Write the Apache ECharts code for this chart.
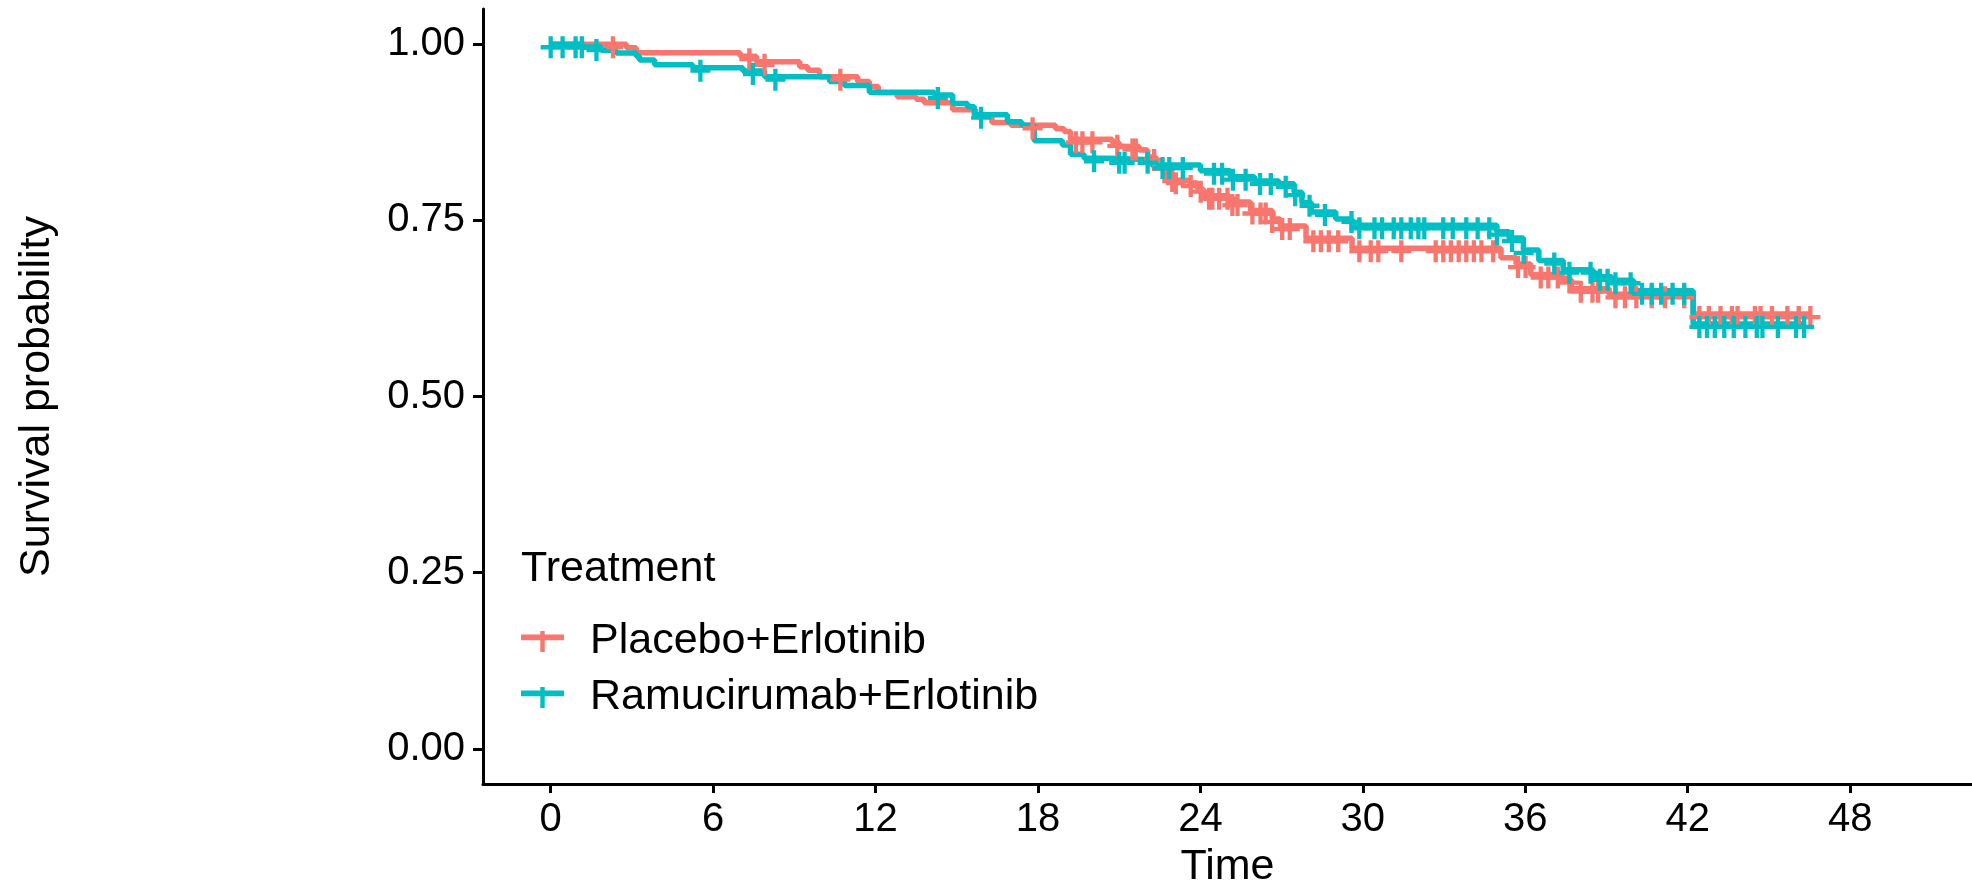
<!DOCTYPE html>
<html>
<head>
<meta charset="utf-8">
<script src="https://cdn.jsdelivr.net/npm/echarts@6/dist/echarts.min.js"></script>
<style>
  html, body { margin: 0; padding: 0; background: #fff; }
  #chart { width: 1972px; height: 894px; }
</style>
</head>
<body>
<div id="chart"></div>
<script>
// Kaplan-Meier steps: event times (months) and survival after each drop
const placeboTimes = [0, 2.8, 3.16, 7.0, 7.6, 9.2, 9.5, 9.93, 11.34, 11.77, 12.1, 12.8, 13.5, 13.8, 14.85, 15.7, 16.3, 17.0, 18.65, 18.97, 19.2, 20.75, 21.0, 21.74, 22.05, 22.35, 22.7, 23.0, 23.6, 23.9, 24.1, 25.05, 25.85, 26.65, 26.95, 27.9, 29.6, 35.1, 35.66, 36.2, 37.35, 37.7, 39.1, 42.2]
const placeboSurv = [1, 0.995, 0.988, 0.983, 0.975, 0.968, 0.963, 0.954, 0.947, 0.940, 0.931, 0.9255, 0.922, 0.917, 0.907, 0.900, 0.889, 0.885, 0.880, 0.876, 0.865, 0.860, 0.855, 0.850, 0.840, 0.824, 0.810, 0.807, 0.803, 0.795, 0.785, 0.776, 0.764, 0.752, 0.742, 0.7245, 0.7105, 0.697, 0.688, 0.673, 0.666, 0.653, 0.645, 0.617]
const placeboCensor = [2.3, 7.34, 7.9, 10.7, 17.8, 19.4, 19.64, 20.01, 20.93, 21.49, 21.61, 22.29, 22.96, 23.09, 23.64, 24.01, 24.32, 24.44, 24.69, 25.0, 25.18, 25.37, 25.92, 26.22, 26.41, 26.65, 27.02, 27.3, 28.17, 28.45, 28.74, 29.09, 29.87, 30.29, 30.57, 31.42, 32.69, 32.97, 33.25, 33.54, 33.82, 34.1, 34.38, 34.81, 35.73, 36.01, 36.57, 36.85, 37.2, 37.63, 38.05, 38.48, 38.69, 39.33, 39.68, 40.1, 40.67, 41.16, 41.87, 42.43, 42.78, 43.21, 43.63, 43.84, 44.48, 44.69, 45.11, 45.68, 46.1, 46.53]

const ramuTimes = [0, 1.19, 1.87, 2.42, 3.16, 3.28, 3.84, 5.25, 7.1, 7.9, 10.3, 10.85, 11.77, 14.17, 14.85, 15.4, 15.65, 16.87, 17.4, 17.86, 18.9, 19.2, 19.7, 20.6, 22.2, 24.0, 25.1, 26.0, 26.9, 27.46, 27.75, 28.1, 29.0, 29.6, 34.95, 35.4, 35.93, 36.5, 37.4, 38.5, 39.2, 40.0, 42.2]
const ramuSurv = [1, 0.996, 0.9916, 0.9874, 0.983, 0.9775, 0.971, 0.9667, 0.962, 0.954, 0.947, 0.9414, 0.932, 0.928, 0.9157, 0.9114, 0.900, 0.890, 0.885, 0.863, 0.857, 0.844, 0.838, 0.836, 0.8285, 0.8205, 0.812, 0.806, 0.802, 0.790, 0.775, 0.762, 0.752, 0.743, 0.734, 0.725, 0.708, 0.693, 0.680, 0.670, 0.665, 0.650, 0.603]
const ramuCensor = [0, 0.44, 0.92, 1.15, 1.69, 5.53, 7.47, 8.3, 14.3, 15.9, 20.07, 21.0, 21.2, 22.05, 22.6, 22.85, 23.35, 24.5, 24.8, 25.2, 25.67, 26.2, 26.6, 27.15, 27.5, 28.03, 28.6, 29.58, 29.87, 30.43, 30.71, 31.14, 31.42, 31.77, 32.05, 32.27, 32.97, 33.32, 33.82, 34.24, 34.67, 34.95, 35.51, 35.94, 37.07, 37.63, 38.41, 38.76, 39.04, 39.33, 39.89, 40.31, 40.67, 41.02, 41.44, 41.87, 42.43, 42.71, 43.0, 43.35, 43.7, 44.13, 44.55, 44.76, 45.33, 46.0, 46.3]

const xTicks = [0, 6, 12, 18, 24, 30, 36, 42, 48]
const yTicks = [0, 0.25, 0.5, 0.75, 1]

const groups = ['Placebo+Erlotinib', 'Ramucirumab+Erlotinib']
const colors = ['#F8766D', '#00BFC4']
const FONT = '"Liberation Sans", Arial, sans-serif'

// survival value in force at time t
const survAt = (times, surv, t) => {
  let s = 1
  for (let i = 0; i < times.length; i++) {
    if (times[i] <= t) s = surv[i]
  }
  return s
}

const stepData = (times, surv, censor) => {
  const d = times.map((t, i) => [t, surv[i]])
  const last = censor[censor.length - 1]
  d.push([last, survAt(times, surv, last)])
  return d
}

const censorData = (times, surv, censor) => censor.map(t => [t, survAt(times, surv, t)])

const plusSymbol = 'path://M7.85,0 H12.15 V22 H7.85 Z M0,8.85 H20 V13.15 H0 Z'
const legendIcon = 'path://M0,3.6 H43 V9.3 H0 Z M19.3,0 H23.7 V21 H19.3 Z'

const myChart = echarts.init(document.getElementById('chart'))

const lineSeries = (name, color, times, surv, censor) => ({
  name: name,
  type: 'line',
  step: 'end',
  color: color,
  showSymbol: false,
  symbol: 'none',
  lineStyle: { color: color, width: 5.5 },
  z: 2,
  data: stepData(times, surv, censor)
})

const censorSeries = (name, color, times, surv, censor) => ({
  name: name + ' censor',
  type: 'scatter',
  symbol: plusSymbol,
  symbolSize: [20, 22],
  symbolOffset: [0, 3],
  itemStyle: { color: color, opacity: 1 },
  z: 3,
  data: censorData(times, surv, censor)
})

const options = {
  animation: false,
  backgroundColor: '#fff',
  grid: { left: 483, top: 9, width: 1491, bottom: 106 },
  title: {
    text: 'Treatment',
    left: 521,
    top: 548,
    padding: 0,
    textStyle: { fontFamily: FONT, fontSize: 43, fontWeight: 'normal', color: '#000' }
  },
  legend: {
    data: groups,
    orient: 'vertical',
    left: 521,
    top: 620,
    padding: 0,
    itemWidth: 43,
    itemHeight: 21,
    itemGap: 13,
    icon: legendIcon,
    itemStyle: { borderWidth: 0 },
    textStyle: { fontFamily: FONT, fontSize: 43, color: '#000', padding: [0, 0, 0, 21] }
  },
  xAxis: {
    type: 'value',
    min: -2.5,
    max: 52.5,
    name: 'Time',
    nameLocation: 'middle',
    nameGap: 62,
    nameTextStyle: { fontFamily: FONT, fontSize: 43, color: '#000' },
    splitLine: { show: false },
    axisLine: { show: true, onZero: false, lineStyle: { color: '#000', width: 3 } },
    axisTick: { show: true, length: 9, lineStyle: { color: '#000', width: 3 }, customValues: xTicks },
    axisLabel: { fontFamily: FONT, fontSize: 40, color: '#000', margin: 16, customValues: xTicks }
  },
  yAxis: {
    type: 'value',
    min: -0.05,
    max: 1.05,
    name: 'Survival probability',
    nameLocation: 'middle',
    nameRotate: 90,
    nameGap: 424,
    nameTextStyle: { fontFamily: FONT, fontSize: 43, color: '#000' },
    splitLine: { show: false },
    axisLine: { show: true, onZero: false, lineStyle: { color: '#000', width: 3 } },
    axisTick: { show: true, length: 10, lineStyle: { color: '#000', width: 3 }, customValues: yTicks },
    axisLabel: {
      fontFamily: FONT, fontSize: 40, color: '#000', margin: 18,
      padding: [7, 0, 0, 0],
      customValues: yTicks,
      formatter: (v) => v.toFixed(2)
    }
  },
  series: [
    lineSeries(groups[0], colors[0], placeboTimes, placeboSurv, placeboCensor),
    lineSeries(groups[1], colors[1], ramuTimes, ramuSurv, ramuCensor),
    censorSeries(groups[0], colors[0], placeboTimes, placeboSurv, placeboCensor),
    censorSeries(groups[1], colors[1], ramuTimes, ramuSurv, ramuCensor)
  ]
}

myChart.setOption(options)
</script>
</body>
</html>
